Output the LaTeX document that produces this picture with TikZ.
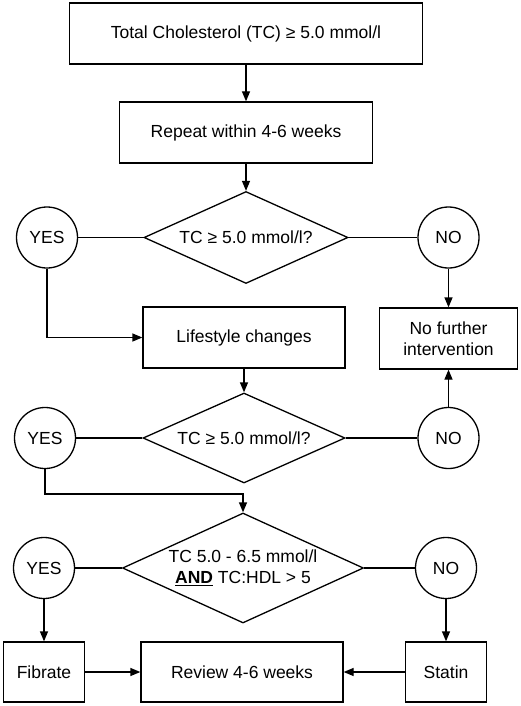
\documentclass[tikz,border=0pt]{standalone}
\usepackage{fontspec}
\setmainfont{Liberation Sans}
\usetikzlibrary{arrows.meta,shapes.geometric}
\begin{document}
\begin{tikzpicture}[x=1pt,y=-1pt, line width=1.3pt,
  every node/.style={font=\fontsize{17.5}{21}\selectfont},
  box/.style={draw, rectangle, inner sep=0pt, align=center},
  dia/.style={draw, diamond, inner sep=0pt},
  circ/.style={draw, circle, minimum size=61pt, inner sep=0pt},
  arr/.style={-{Triangle[length=10pt,width=8pt]}}]
\useasboundingbox (0,0) rectangle (520,706);
\node[box, minimum width=353pt, minimum height=61pt] (box1) at (246,33.5) {Total Cholesterol (TC) ≥ 5.0 mmol/l};
\node[box, minimum width=253pt, minimum height=61pt] (box2) at (246,132.5) {Repeat within 4-6 weeks};
\node[dia, minimum width=204pt, minimum height=92pt, label={center:TC ≥ 5.0 mmol/l?}] (d1) at (246,237.5) {};
\node[circ] (yes1) at (47,237.5) {YES};
\node[circ] (no1) at (448.5,237.5) {NO};
\node[box, minimum width=202pt, minimum height=61pt] (life) at (244,337.5) {Lifestyle changes};
\node[box, minimum width=138pt, minimum height=61pt] (nfi) at (448.5,338.5) {No further\\intervention};
\node[dia, minimum width=202pt, minimum height=90pt, label={center:TC ≥ 5.0 mmol/l?}] (d2) at (244,438) {};
\node[circ] (yes2) at (45,438) {YES};
\node[circ] (no2) at (448.5,438) {NO};
\node[dia, minimum width=241pt, minimum height=110pt, label={[align=center]center:TC 5.0 - 6.5 mmol/l\\\underline{\textbf{AND}} TC:HDL > 5}] (d3) at (243,568) {};
\node[circ] (yes3) at (44,568) {YES};
\node[circ] (no3) at (446,568) {NO};
\node[box, minimum width=81pt, minimum height=60pt] (fib) at (44,672) {Fibrate};
\node[box, minimum width=202pt, minimum height=60pt] (rev) at (242,672) {Review 4-6 weeks};
\node[box, minimum width=81pt, minimum height=60pt] (sta) at (446,672) {Statin};
\coordinate (j) at (45,494);
\draw[arr] (box1.south) -- (box2.north);
\draw[arr] (box2.south) -- (d1.north);
\draw (yes1.east) -- (d1.west);
\draw (d1.east) -- (no1.west);
\draw[arr] (yes1.south) |- (life.west);
\draw[arr] (no1.south) -- (nfi.north);
\draw[arr] (life.south) -- (d2.north);
\draw (yes2.east) -- (d2.west);
\draw (d2.east) -- (no2.west);
\draw[arr] (no2.north) -- (nfi.south);
\draw[arr] (yes2.south) -- (j) -| (d3.north);
\draw (yes3.east) -- (d3.west);
\draw (d3.east) -- (no3.west);
\draw[arr] (yes3.south) -- (fib.north);
\draw[arr] (no3.south) -- (sta.north);
\draw[arr] (fib.east) -- (rev.west);
\draw[arr] (sta.west) -- (rev.east);
\end{tikzpicture}
\end{document}
